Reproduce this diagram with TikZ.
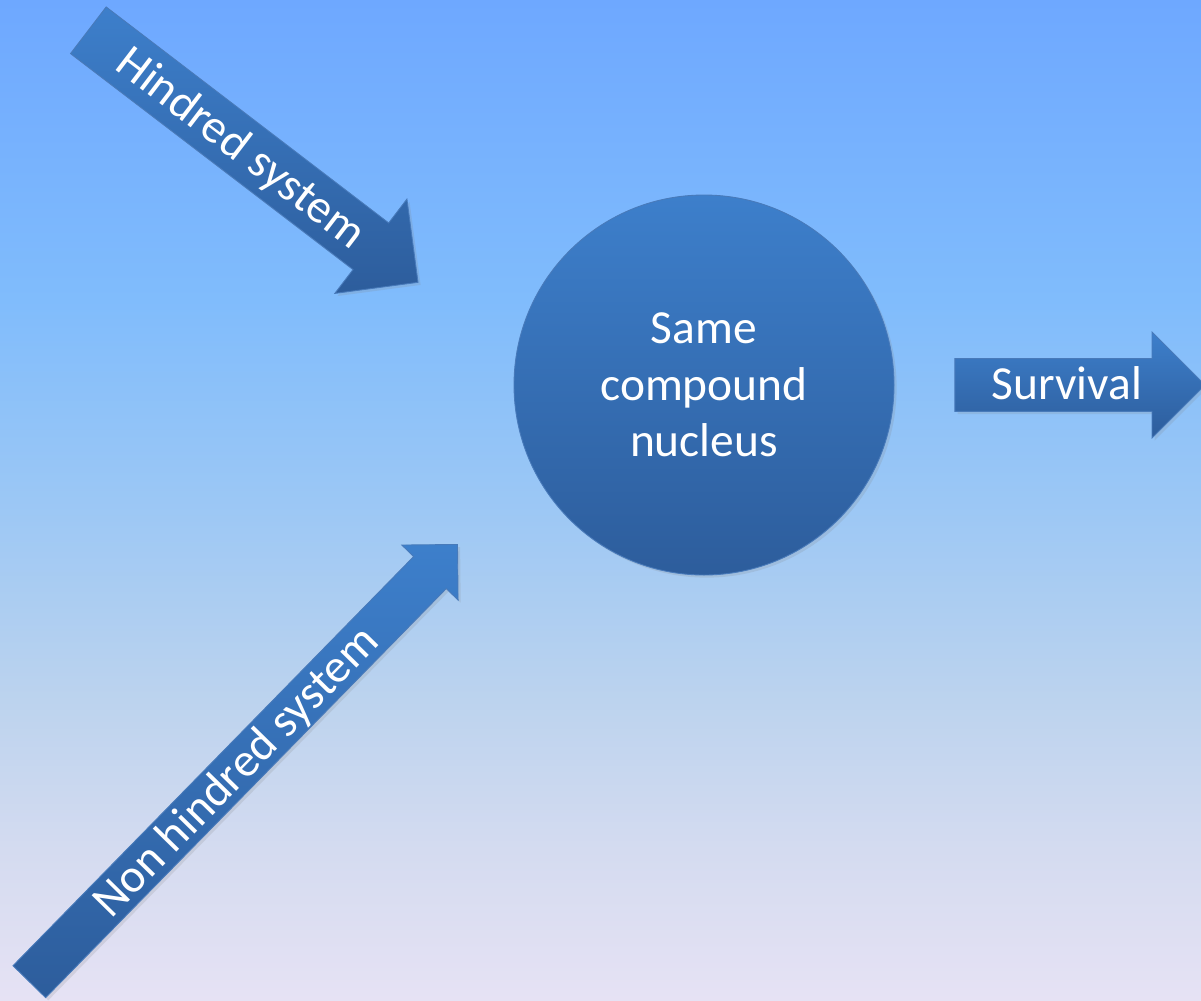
\documentclass[tikz,border=0pt]{standalone}
\usepackage{fontspec}
\setmainfont{Carlito}
\usetikzlibrary{shapes.arrows, shadows, positioning}
\definecolor{bgtop}{RGB}{110, 168, 255}
\definecolor{bgupper}{RGB}{128, 188, 252}
\definecolor{bgmid}{RGB}{155, 199, 245}
\definecolor{bglower}{RGB}{188, 211, 238}
\definecolor{bglow}{RGB}{212, 219, 240}
\definecolor{bgbottom}{RGB}{230, 226, 244}
\definecolor{shapetop}{RGB}{61, 127, 203}
\definecolor{shapebottom}{RGB}{45, 93, 156}
\definecolor{shapeline}{RGB}{72, 122, 186}
\pgfdeclareverticalshading{slideshade}{100bp}{color(0bp)=(bgbottom); color(25bp)=(bgbottom);
  color(32.5bp)=(bglow); color(40bp)=(bglower); color(50bp)=(bgmid);
  color(60bp)=(bgupper); color(75bp)=(bgtop); color(100bp)=(bgtop)}
\tikzset{
  bluearrow/.style={single arrow, draw=shapeline, line width=0.5pt,
              top color=shapetop, bottom color=shapebottom,
              text=white, font=\fontsize{27}{32}\selectfont,
              text height=21pt, text depth=4pt, inner xsep=4pt,
              single arrow head extend=#1, anchor=tail,
              drop shadow={opacity=0.18, shadow xshift=1.5pt, shadow yshift=-1.5pt}},
  bluearrow/.default=0.5cm,
  nucleus/.style={circle, draw=shapeline, line width=0.5pt,
              top color=shapetop, bottom color=shapebottom,
              text=white, align=center, inner sep=0pt,
              font=\fontsize{27}{32.3}\selectfont, minimum size=7.6cm,
              drop shadow={opacity=0.18, shadow xshift=1.5pt, shadow yshift=-1.5pt}},
}

\begin{document}
\begin{tikzpicture}
  \useasboundingbox (0,0) rectangle (24.02,-20);
  \shade[shading=slideshade] (0,0) rectangle (24.02,-20);

  \node[nucleus] (cn) at (14.08,-7.70) {Same\\compound\\nucleus};

  \node[bluearrow=0.6cm, rotate=-37.4, minimum height=8.3cm, inner ysep=3.95pt] (hind)
        at (1.76,-0.6) {Hindred system};
  \node[bluearrow=0.33cm, rotate=45.6, minimum height=12.24cm, inner ysep=0.25pt] (nonhind)
        at (0.58,-19.64) {Non hindred system};
  \node[bluearrow=0.53cm, minimum height=5cm, inner ysep=2.25pt, right=1.2cm of cn] (surv)
        {Survival};
\end{tikzpicture}
\end{document}
